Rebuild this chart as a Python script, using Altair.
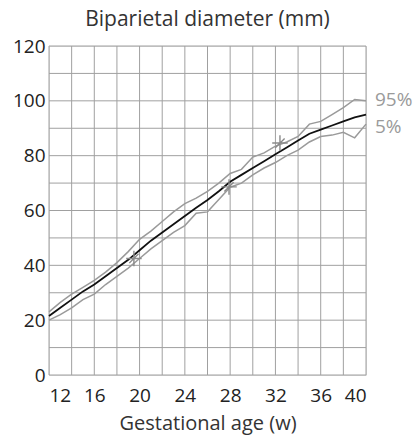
import altair as alt
import pandas as pd

# Gestational age in weeks
weeks = list(range(12, 41))

# Biparietal diameter percentiles (mm)
p50 = [21.5, 24.5, 27.5, 30.5, 33.0, 36.0, 39.0, 42.0, 45.5, 49.0,
       52.0, 55.0, 58.0, 61.0, 63.8, 67.0, 70.5, 73.0, 75.5, 78.0,
       80.5, 83.0, 85.5, 88.0, 89.5, 91.0, 92.5, 94.0, 95.0]
p95 = [23.0, 26.5, 29.5, 32.0, 34.5, 37.5, 41.0, 45.0, 49.5, 52.5,
       56.0, 59.5, 62.5, 64.5, 67.0, 70.0, 73.5, 75.0, 79.5, 81.0,
       83.5, 85.0, 87.0, 91.5, 92.5, 95.0, 97.5, 100.5, 100.0]
p5 = [20.0, 22.0, 24.5, 27.5, 29.5, 33.0, 36.0, 39.0, 42.5, 46.0,
      49.0, 52.0, 54.5, 59.0, 59.5, 64.0, 68.5, 70.0, 73.0, 75.5,
      77.5, 80.0, 82.0, 85.0, 87.0, 87.5, 88.5, 86.5, 91.5]

# Individual measurements
obs_weeks = [19.5, 27.9, 32.4]
obs_bpd = [42.5, 68.6, 84.6]

# Tick labels and grid lines
x_label_ticks = list(range(12, 41, 4))
y_label_ticks = list(range(0, 121, 20))
x_grid_lines = list(range(12, 41, 2))
y_grid_lines = list(range(0, 121, 10))

FONT = "Open Sans"
GRID = "#a0a0a0"
PCT_GREY = "#9a9a9a"

curves = pd.DataFrame({"week": weeks, "p5": p5, "p50": p50, "p95": p95})
obs = pd.DataFrame({"week": obs_weeks, "bpd": obs_bpd})
end95 = pd.DataFrame({"week": [weeks[-1]], "value": [p95[-1]], "label": ["95%"]})
end5 = pd.DataFrame({"week": [weeks[-1]], "value": [p5[-1]], "label": ["5%"]})

x_scale = alt.Scale(domain=[12, 40], nice=False, zero=False)
y_scale = alt.Scale(domain=[0, 120], nice=False)

x_axis = alt.Axis(
    values=x_label_ticks,
    title="Gestational age (w)",
    grid=False, domain=False, ticks=False,
    labelFont=FONT, labelFontSize=19, labelColor="#222", labelPadding=11,
    labelOverlap=False,
    titleFont=FONT, titleFontSize=20, titleFontWeight="normal", titleColor="#333",
    titlePadding=8,
)
y_axis = alt.Axis(
    values=y_label_ticks,
    title=None,
    grid=False, domain=False, ticks=False,
    labelFont=FONT, labelFontSize=19, labelColor="#222", labelPadding=4,
    labelOverlap=False,
)

# Grid drawn as rules so that every 2 weeks / 10 mm gets a line
vgrid = alt.Chart(pd.DataFrame({"g": x_grid_lines})).mark_rule(
    color=GRID, strokeWidth=1
).encode(x=alt.X("g:Q", scale=x_scale, axis=x_axis))
hgrid = alt.Chart(pd.DataFrame({"g": y_grid_lines})).mark_rule(
    color=GRID, strokeWidth=1
).encode(y=alt.Y("g:Q", scale=y_scale, axis=y_axis))

base = alt.Chart(curves).encode(x=alt.X("week:Q", scale=x_scale))

upper = base.mark_line(color="#9a9a9a", strokeWidth=1.5).encode(
    y=alt.Y("p95:Q", scale=y_scale)
)
lower = base.mark_line(color="#9a9a9a", strokeWidth=1.5).encode(y="p5:Q")
median = base.mark_line(color="#111111", strokeWidth=1.8).encode(y="p50:Q")

markers = alt.Chart(obs).mark_point(
    shape="M-1,0L1,0M0,-1L0,1M-0.6,0.6L0.6,-0.6",
    size=240, filled=False, color="#8a8a8a", strokeWidth=1.4, opacity=1,
).encode(x="week:Q", y="bpd:Q")

txt95 = alt.Chart(end95).mark_text(
    align="left", baseline="middle", dx=9, dy=-1, font=FONT, fontSize=19, color=PCT_GREY
).encode(x="week:Q", y="value:Q", text="label:N")
txt5 = alt.Chart(end5).mark_text(
    align="left", baseline="middle", dx=9, dy=3, font=FONT, fontSize=19, color=PCT_GREY
).encode(x="week:Q", y="value:Q", text="label:N")

chart = (
    alt.layer(vgrid, hgrid, upper, lower, median, markers, txt95, txt5)
    .properties(
        width=317,
        height=329,
        title=alt.TitleParams(
            "Biparietal diameter (mm)", font=FONT, fontSize=21,
            fontWeight="normal", color="#333", anchor="middle", offset=7,
        ),
        autosize=alt.AutoSizeParams(type="none"),
        padding={"left": 49, "top": 46, "right": 52, "bottom": 61},
    )
    .configure_view(stroke=None)
    .configure(background="white")
)

chart.save("out.html", embed_options={"renderer": "svg", "actions": False})
